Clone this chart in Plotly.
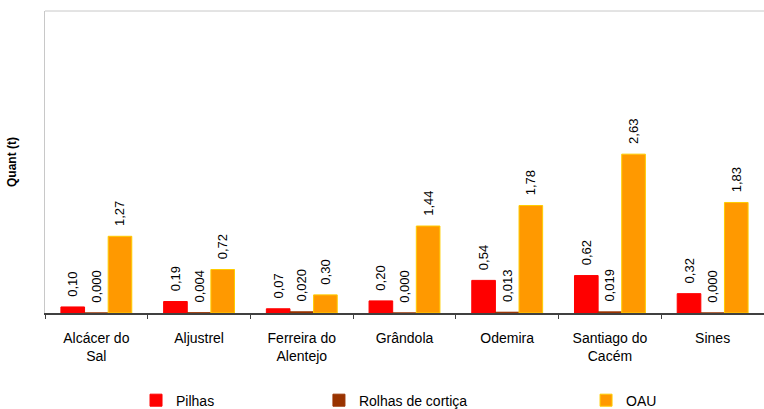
import plotly.graph_objects as go

categories = ["Alcácer do<br>Sal", "Aljustrel", "Ferreira do<br>Alentejo", "Grândola",
              "Odemira", "Santiago do<br>Cacém", "Sines"]
pilhas = [0.10, 0.19, 0.07, 0.20, 0.54, 0.62, 0.32]
rolhas = [0.000, 0.004, 0.020, 0.000, 0.013, 0.019, 0.000]
oau = [1.27, 0.72, 0.30, 1.44, 1.78, 2.63, 1.83]

def fmt(vals, d):
    return ["\u00a0\u00a0" + f"{v:.{d}f}".replace(".", ",") for v in vals]

FONT = "Liberation Sans, Arial, sans-serif"
series = [
    ("Pilhas", pilhas, 2, "#FF0000", "#FF0000", "legend"),
    ("Rolhas de cortiça", rolhas, 3, "#993300", "#993300", "legend2"),
    ("OAU", oau, 2, "#FF9900", "#FFCC00", "legend3"),
]

fig = go.Figure()
for name, vals, d, col, lcol, lg in series:
    fig.add_trace(go.Bar(
        x=categories, y=vals, name=name, showlegend=True,
        marker=dict(color=col, line=dict(color=lcol, width=1)),
        text=fmt(vals, d), textposition="outside", textangle=-90,
        constraintext="none", cliponaxis=False,
        textfont=dict(family=FONT, size=13, color="#000000"),
        legend=lg,
    ))

leg_common = dict(orientation="h", yanchor="middle", y=-0.29, xanchor="left",
                  font=dict(family=FONT, size=14, color="#000000"),
                  bgcolor="rgba(0,0,0,0)", borderwidth=0)

fig.update_layout(
    width=764, height=409,
    showlegend=True,
    margin=dict(l=45, r=0, t=11, b=96, autoexpand=False),
    paper_bgcolor="white", plot_bgcolor="white",
    barmode="group", bargap=0.31, bargroupgap=0,
    font=dict(family=FONT, size=12, color="#000000"),
    legend=dict(x=0.1266, **leg_common),
    legend2=dict(x=0.381, **leg_common),
    legend3=dict(x=0.7525, **leg_common),
    xaxis=dict(showline=True, linecolor="#404040", linewidth=1.5,
               ticks="outside", tickson="boundaries", ticklen=4, tickcolor="#404040",
               ticklabelstandoff=11,
               tickfont=dict(family=FONT, size=14, color="#000000"),
               showgrid=False, automargin=False),
    yaxis=dict(range=[0, 5], showticklabels=False, ticks="", showgrid=False,
               zeroline=False, showline=True, linecolor="#C8C8C8", linewidth=1,
               automargin=False,
               title=dict(text="<b>Quant (t)</b>", standoff=24,
                          font=dict(family=FONT, size=12, color="#000000"))),
    shapes=[dict(type="line", xref="paper", yref="paper", x0=0, x1=1, y0=1, y1=1,
                 line=dict(color="#C8C8C8", width=1))],
)

fig.write_html("out.html", config={"displayModeBar": False},
               post_script="document.body.style.margin='0';")
